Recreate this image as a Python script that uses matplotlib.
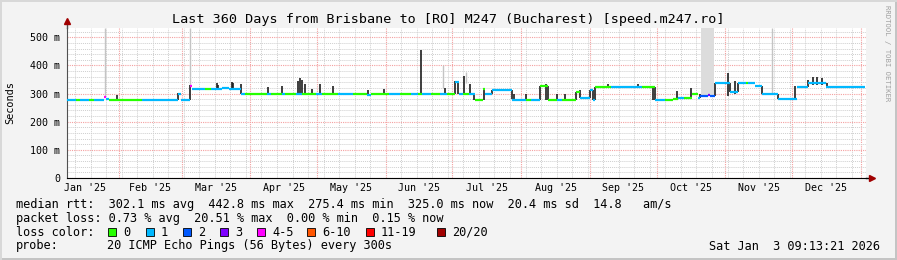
import datetime as dt

import matplotlib
matplotlib.use("Agg")
import matplotlib.pyplot as plt
import matplotlib.dates as mdates
from matplotlib.patches import Rectangle
from matplotlib.ticker import MultipleLocator, FuncFormatter, NullFormatter

W, H = 897, 260
FONT = "DejaVu Sans Mono"

START = dt.datetime(2025, 1, 8, 9, 13, 21)
SPAN_DAYS = 360

TITLE = "Last 360 Days from Brisbane to [RO] M247 (Bucharest) [speed.m247.ro]"

# median rtt, stepwise: day offset from START, value (ms), loss class
seg_day = [0, 4, 6, 10, 12, 16.5, 17.5, 19, 34, 50,
           51.5, 55.4, 56.5, 62, 65, 70, 73, 78.3, 80, 85,
           90, 92, 96.8, 98, 103, 106, 112, 115, 119, 122,
           129, 135, 137, 142, 145, 150, 155, 158, 160, 164,
           168, 171, 174.6, 176.5, 178.5, 181, 184, 187.5, 188.5, 191.3,
           200.5, 206.6, 209, 213.3, 216.9, 221, 223, 229.5, 231.3, 235.8,
           237.2, 238.1, 243, 245, 257.4, 259, 265.1, 269.6, 273, 275.4,
           278, 281.7, 284.4, 285.3, 288.9, 289.5, 292.1, 298.8, 302.4, 306,
           307, 310.1, 313.2, 320.4, 329, 334, 342]
seg_ms = [277, 277, 277, 277, 277, 288, 282, 279, 277, 300,
          277, 326, 318, 318, 318, 320, 318, 298, 298, 300,
          298, 298, 300, 298, 300, 298, 298, 300, 298, 298,
          300, 296, 298, 300, 298, 298, 300, 298, 300, 298,
          300, 297, 342, 298, 300, 298, 277, 315, 298, 312,
          279, 278, 277, 326, 277, 277, 277, 305, 283, 312,
          277, 322, 325, 322, 325, 325, 277, 277, 282, 284,
          284, 298, 284, 293, 296, 293, 337, 305, 337, 337,
          337, 326, 300, 280, 324, 336, 325]
seg_loss = [1, 0, 1, 0, 1, 4, 1, 0, 1, 1,
            1, 4, 1, 0, 1, 1, 1, 1, 0, 0,
            1, 0, 1, 0, 1, 0, 1, 0, 0, 1,
            0, 1, 0, 0, 1, 0, 1, 0, 1, 0,
            1, 0, 1, 1, 0, 1, 0, 0, 1, 1,
            1, 0, 1, 0, 0, 1, 0, 0, 1, 1,
            1, 0, 0, 1, 1, 0, 1, 0, 0, 1,
            0, 0, 1, 2, 3, 2, 1, 1, 1, 0,
            1, 1, 1, 1, 1, 1, 1]

# dark smoke spikes: day, low (ms), high (ms)
smoke_day = [22.5, 50, 55.4, 67.5, 68.2, 74.3, 75, 78.3, 90.5, 96.8,
             104, 105, 105.8, 107.1, 110.3, 113.9, 119.7, 135.5, 142.7, 159.3,
             170.1, 174.6, 176, 178.7, 181.8, 183.2, 187.7, 191.3, 200.7, 201.2,
             206.6, 213.3, 215.6, 216.9, 221, 224.6, 229.5, 231.3, 235.8, 237.2,
             238.1, 243.9, 257.4, 264.2, 265.1, 275, 281.3, 285.3, 292.1, 297.9,
             298.8, 301.1, 302.4, 313.2, 320.4, 328.1, 334, 336, 338, 340, 342.5]
smoke_lo = [279, 277, 277, 318, 318, 318, 318, 298, 298, 298,
            298, 298, 298, 298, 298, 298, 298, 298, 298, 298,
            298, 298, 298, 298, 298, 277, 277, 298, 280, 280,
            278, 277, 277, 277, 277, 277, 277, 283, 283, 277,
            277, 322, 322, 277, 277, 277, 284, 284, 293, 293,
            305, 300, 305, 300, 280, 280, 322, 330, 330, 330, 326]
smoke_hi = [294, 302, 330, 338, 332, 340, 336, 334, 324, 326,
            345, 355, 350, 333, 316, 335, 326, 312, 316, 454,
            320, 344, 344, 361, 335, 298, 315, 312, 312, 300,
            298, 326, 335, 326, 298, 298, 305, 312, 312, 312,
            322, 334, 333, 325, 325, 310, 320, 298, 337, 373,
            337, 345, 337, 326, 300, 326, 350, 360, 358, 355, 336]

# light gray smoke (scattered slow pings)
haze_day = [17.1, 55.4, 169.2, 179.6, 317.7]
haze_lo = [290, 330, 320, 336, 300]
haze_hi = [535, 535, 400, 376, 535]
band_days = [285.8, 291.6]
band_ms = [293, 535]

LOSS_COLORS = ["#26ff00", "#00b8ff", "#0059ff", "#7e00ff", "#ff00ff",
               "#ff5500", "#ff0000", "#a10000"]
loss_labels = ["0", "1", "2", "3", "4-5", "6-10", "11-19", "20/20"]
loss_box_x = [108, 146, 183, 220, 257, 307, 366, 437]

stat_rows = [
    "median rtt:  302.1 ms avg  442.8 ms max  275.4 ms min  325.0 ms now  20.4 ms sd  14.8   am/s",
    "packet loss: 0.73 % avg  20.51 % max  0.00 % min  0.15 % now",
]
probe_text = "20 ICMP Echo Pings (56 Bytes) every 300s"
stamp = "Sat Jan  3 09:13:21 2026"


def fx(px):
    return px / W


def fy(py):
    return 1 - py / H


t0 = mdates.date2num(START)

fig = plt.figure(figsize=(W / 100, H / 100), dpi=100, facecolor="#f3f3f3")
ax = fig.add_axes([fx(67), fy(178), fx(799), 150.5 / H])
ax.set_facecolor("#ffffff")
ax.set_xlim(t0, t0 + SPAN_DAYS)
ax.set_ylim(0, 535)

# grid
ax.xaxis.set_major_locator(mdates.MonthLocator())
ax.xaxis.set_minor_locator(mdates.WeekdayLocator(byweekday=mdates.SU))
ax.xaxis.set_major_formatter(NullFormatter())
ax.yaxis.set_major_locator(MultipleLocator(100))
ax.yaxis.set_minor_locator(MultipleLocator(20))
ax.yaxis.set_major_formatter(FuncFormatter(lambda v, p: "0" if v == 0 else f"{v:.0f} m"))
ax.grid(which="minor", color="#cfcfcf", linestyle=(0, (1, 1)), linewidth=0.7)
ax.grid(which="major", color="#f4a0a0", linestyle=(0, (1, 1)), linewidth=0.8)
ax.set_axisbelow(True)
ax.tick_params(which="both", length=0)
ax.tick_params(axis="y", labelsize=7.2, pad=5)
for lab in ax.get_yticklabels():
    lab.set_fontfamily(FONT)

for s in ["top", "right"]:
    ax.spines[s].set_visible(False)
ax.spines["left"].set_color("#505050")
ax.spines["bottom"].set_color("#000000")

# month labels centred on each month
for m in range(1, 13):
    a = dt.datetime(2025, m, 1)
    b = dt.datetime(2025 + m // 12, m % 12 + 1, 1)
    mid = mdates.date2num(a + (b - a) / 2)
    ax.text(mid, -0.035, a.strftime("%b '25"), transform=ax.get_xaxis_transform(),
            ha="center", va="top", fontsize=7.2, family=FONT)

# smoke
ax.vlines([t0 + d for d in haze_day], haze_lo, haze_hi, color="#c4c4c4", linewidth=1.0, zorder=2)
ax.fill_between([t0 + d for d in band_days], band_ms[0], band_ms[1], color="#dcdcdc", linewidth=0, zorder=2)
ax.vlines([t0 + d for d in smoke_day], smoke_lo, smoke_hi, color="#1e1e1e", linewidth=1.2, zorder=3)

# median line coloured by loss
x_end = [t0 + d for d in seg_day[1:]] + [t0 + SPAN_DAYS - 0.3]
ax.hlines(seg_ms, [t0 + d for d in seg_day], x_end,
          colors=[LOSS_COLORS[k] for k in seg_loss], linewidth=1.6, zorder=4)

# axis arrows
ax.plot([0, 0], [1, 1.035], transform=ax.transAxes, color="#505050", lw=1, clip_on=False)
ax.plot([0], [1.045], marker="^", color="#a00000", markersize=4, transform=ax.transAxes, clip_on=False)
ax.plot([1, 1.006], [0, 0], transform=ax.transAxes, color="#000000", lw=1, clip_on=False)
ax.plot([1.008], [0], marker=">", color="#a00000", markersize=4, transform=ax.transAxes, clip_on=False)

# texts
fig.text(0.5, fy(19.5), TITLE, ha="center", va="center", fontsize=9.7, family=FONT)
fig.text(fx(10), fy(103), "Seconds", rotation=90, ha="center", va="center", fontsize=7.4, family=FONT)
fig.text(fx(887), fy(5), "RRDTOOL / TOBI OETIKER", rotation=-90, ha="center", va="top",
         fontsize=5.2, family=FONT, color="#a0a0a0")

row_y = [204.5, 218.5, 232, 246]
for i, line in enumerate(stat_rows):
    fig.text(fx(16), fy(row_y[i]), line, ha="left", va="center", fontsize=8.55, family=FONT)
fig.text(fx(16), fy(row_y[2]), "loss color:", ha="left", va="center", fontsize=8.55, family=FONT)
for bx, lab, col in zip(loss_box_x, loss_labels, LOSS_COLORS):
    fig.patches.append(Rectangle((fx(bx), fy(row_y[2] + 4)), fx(8), 8 / H, transform=fig.transFigure,
                                 facecolor=col, edgecolor="#000000", linewidth=0.6))
    fig.text(fx(bx + 15), fy(row_y[2]), lab, ha="left", va="center", fontsize=8.55, family=FONT)
fig.text(fx(16), fy(row_y[3]), "probe:", ha="left", va="center", fontsize=8.55, family=FONT)
fig.text(fx(107), fy(row_y[3]), probe_text, ha="left", va="center", fontsize=8.55, family=FONT)
fig.text(fx(880), fy(row_y[3]), stamp, ha="right", va="center", fontsize=8.55, family=FONT)

# 3d frame around the image
fig.patches.append(Rectangle((0, 0), 1, 2 / H, transform=fig.transFigure, facecolor="#c4c4c4", linewidth=0))
fig.patches.append(Rectangle((1 - 2 / W, 0), 2 / W, 1, transform=fig.transFigure, facecolor="#c4c4c4", linewidth=0))
fig.patches.append(Rectangle((0, 1 - 2 / H), 1, 2 / H, transform=fig.transFigure, facecolor="#d8d8d8", linewidth=0))
fig.patches.append(Rectangle((0, 0), 2 / W, 1, transform=fig.transFigure, facecolor="#d8d8d8", linewidth=0))

fig.savefig("out.png", dpi=100, facecolor=fig.get_facecolor())
